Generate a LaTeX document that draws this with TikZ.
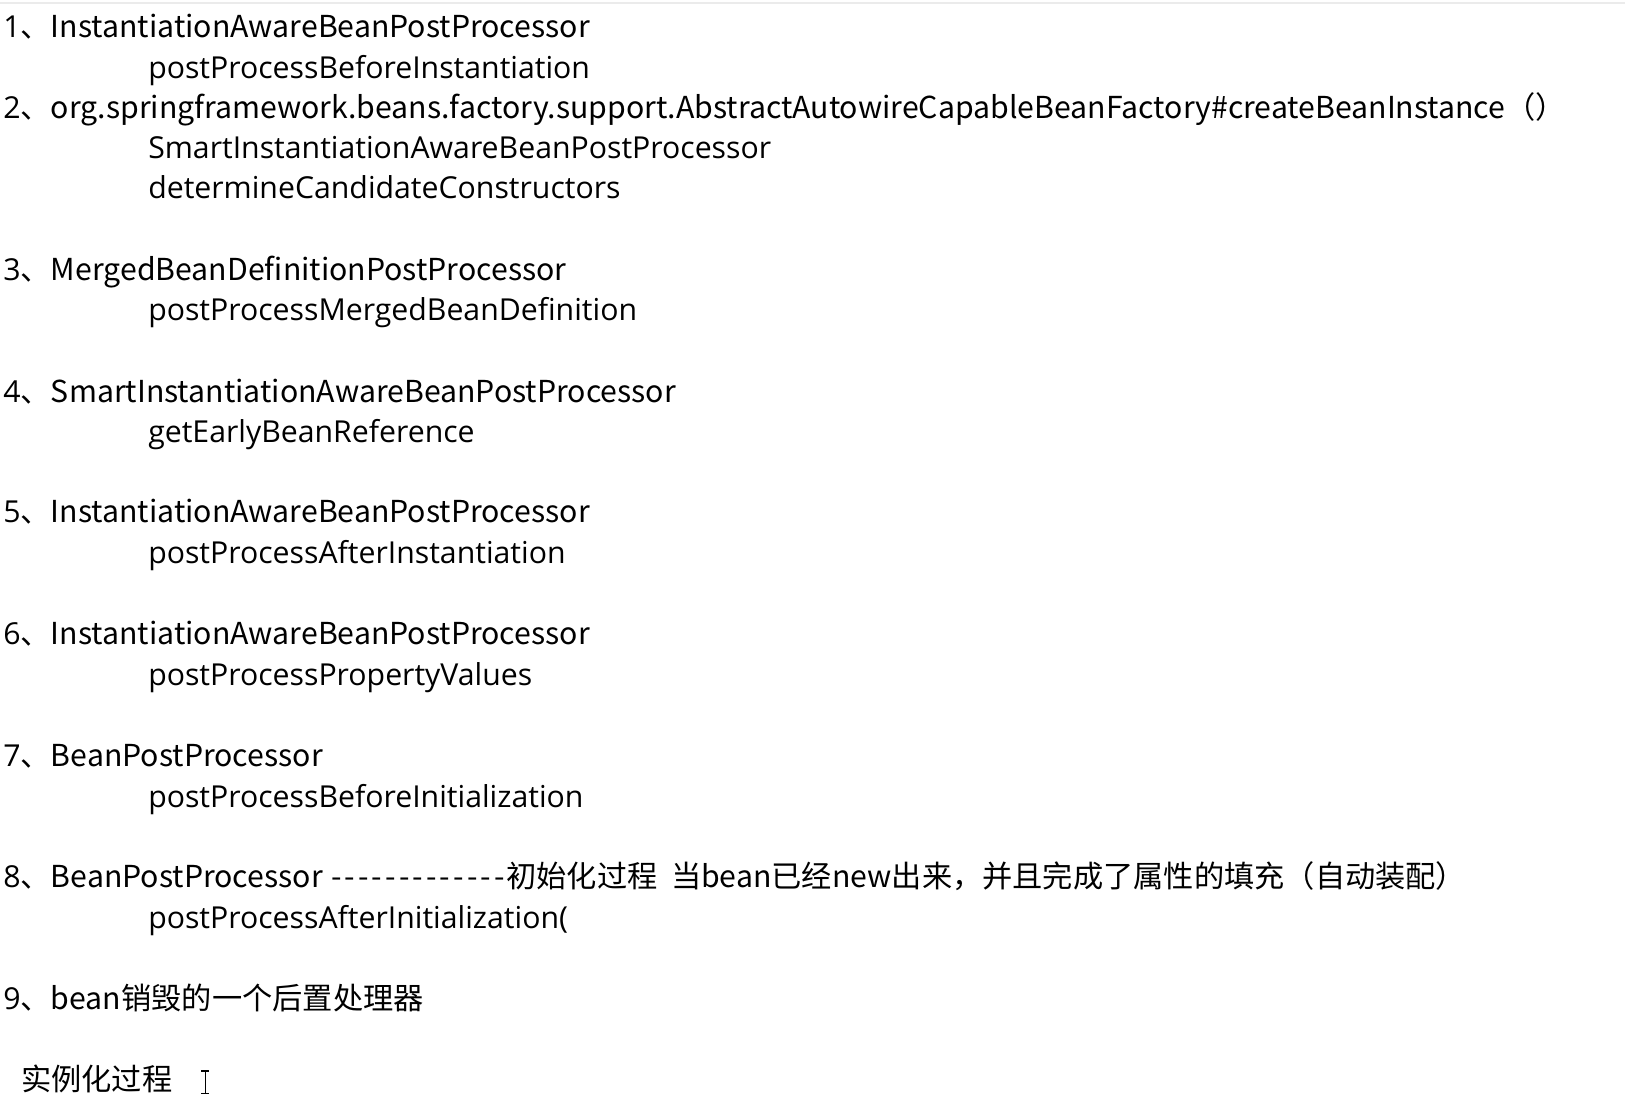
\documentclass[tikz,border=0pt]{standalone}
\usepackage{fontspec}
\setmainfont{Open Sans}
\newfontfamily\cjk{Noto Sans CJK SC}
\newcommand{\dashrun}{\foreach \i in {1,...,13}{\makebox[0.45em][c]{-}}}
\tikzset{
  txt/.style={anchor=base west, inner sep=0pt, font=\fontsize{17.2}{20}\selectfont},
}
\begin{document}
\begin{tikzpicture}[x=0.0208333cm, y=-0.0208333cm]
		%%%%% START %%%%%
		\useasboundingbox (0,0) rectangle (1566.72,1065.6);
		\fill[white] (0,0) rectangle (1566.72,1065.6);
		\draw[black!8, line width=1.5pt] (0,3) -- (1560,3);
		
		\node[txt] (n1) at (3,36) {1\cjk{、}InstantiationAwareBeanPostProcessor};
		\node[txt] (m1) at (142,75) {postProcessBeforeInstantiation};
		
		\node[txt] (n2) at (3,114) {2\cjk{、}org.springframework.beans.factory.support.AbstractAutowireCapableBeanFactory\#createBeanInstance\cjk{（）}};
		\node[txt] (m2) at (142,152) {SmartInstantiationAwareBeanPostProcessor};
		\node[txt] (m2b) at (142,191) {determineCandidateConstructors};
		
		\node[txt] (n3) at (3,269) {3\cjk{、}MergedBeanDefinitionPostProcessor};
		\node[txt] (m3) at (142,308) {postProcessMergedBeanDefinition};
		
		\node[txt] (n4) at (3,386) {4\cjk{、}SmartInstantiationAwareBeanPostProcessor};
		\node[txt] (m4) at (142,425) {getEarlyBeanReference};
		
		\node[txt] (n5) at (3,502) {5\cjk{、}InstantiationAwareBeanPostProcessor};
		\node[txt] (m5) at (142,541) {postProcessAfterInstantiation};
		
		\node[txt] (n6) at (3,619) {6\cjk{、}InstantiationAwareBeanPostProcessor};
		\node[txt] (m6) at (142,658) {postProcessPropertyValues};
		
		\node[txt] (n7) at (3,736) {7\cjk{、}BeanPostProcessor};
		\node[txt] (m7) at (142,775) {postProcessBeforeInitialization};
		
		\node[txt] (n8) at (3,852) {8\cjk{、}BeanPostProcessor \dashrun\cjk{初始化过程\ \ 当bean已经new出来，并且完成了属性的填充（自动装配）}};
		\node[txt] (m8) at (142,891) {postProcessAfterInitialization(};
		
		\node[txt] (n9) at (3,969) {9\cjk{、}bean\cjk{销毁的一个后置处理器}};
		
		\node[txt] (inst) at (20,1047) {\cjk{实例化过程}};
		
		% cursor
		\draw[line width=0.8pt] (197,1028) -- (197,1050);
		\draw[line width=0.8pt] (193,1028) -- (201,1028);
		\draw[line width=0.8pt] (193,1050) -- (201,1050);
		%%%%% END %%%%%
\end{tikzpicture}
\end{document}
